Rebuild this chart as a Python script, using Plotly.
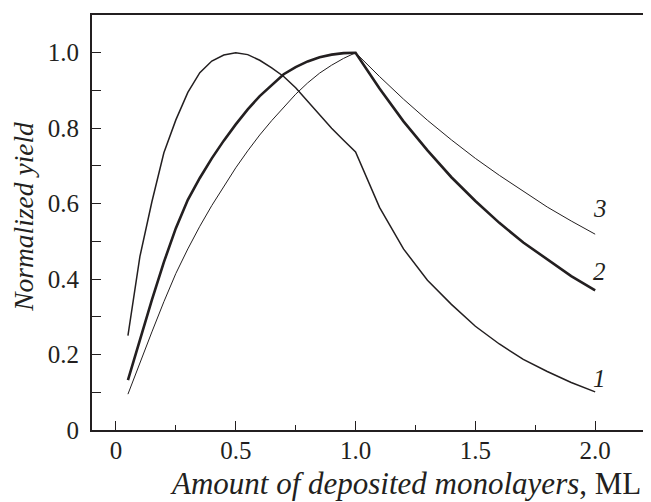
import plotly.graph_objects as go

# ---- data ----
x_rise = [0.05, 0.10, 0.15, 0.20, 0.25, 0.30, 0.35, 0.40, 0.45, 0.50,
          0.55, 0.60, 0.65, 0.70, 0.75, 0.80, 0.85, 0.90, 0.95, 1.00]
x_decay = [1.1, 1.2, 1.3, 1.4, 1.5, 1.6, 1.7, 1.8, 1.9, 2.0]

y1_rise = [0.25, 0.46, 0.605, 0.735, 0.822, 0.895, 0.947, 0.978, 0.994, 1.0,
           0.995, 0.98, 0.96, 0.937, 0.907, 0.872, 0.837, 0.80, 0.768, 0.737]
y1_decay = [0.59, 0.48, 0.397, 0.333, 0.275, 0.228, 0.187, 0.155, 0.126, 0.101]

y2_rise = [0.132, 0.24, 0.345, 0.445, 0.535, 0.61, 0.668, 0.72, 0.767, 0.81,
           0.85, 0.885, 0.915, 0.943, 0.962, 0.977, 0.988, 0.995, 0.999, 1.0]
y2_decay = [0.905, 0.818, 0.741, 0.670, 0.607, 0.549, 0.497, 0.452, 0.408, 0.370]

y3_rise = [0.095, 0.18, 0.26, 0.34, 0.415, 0.48, 0.54, 0.595, 0.645, 0.695,
           0.74, 0.782, 0.82, 0.856, 0.89, 0.92, 0.946, 0.967, 0.985, 1.0]
y3_decay = [0.937, 0.877, 0.821, 0.769, 0.72, 0.675, 0.632, 0.591, 0.554, 0.519]

curve_labels = ["1", "2", "3"]
label_y = [0.136, 0.419, 0.587]
x_ticks = [0, 0.5, 1.0, 1.5, 2.0]
x_ticktext = ["0", "0.5", "1.0", "1.5", "2.0"]
y_ticks = [0, 0.2, 0.4, 0.6, 0.8, 1.0]
y_ticktext = ["0", "0.2", "0.4", "0.6", "0.8", "1.0"]

INK = "#231f20"
FONT = "Liberation Serif, Times New Roman, serif"

x_all = x_rise + x_decay
series = [
    (y1_rise + y1_decay, 1.5),
    (y2_rise + y2_decay, 2.6),
    (y3_rise + y3_decay, 1.0),
]

fig = go.Figure()
for (ys, w), lab, ly in zip(series, curve_labels, label_y):
    fig.add_trace(go.Scatter(x=x_all, y=ys, mode="lines",
                             line=dict(color=INK, width=w), name=lab,
                             showlegend=False, hoverinfo="skip"))
    fig.add_annotation(x=2.02, y=ly, text="<i>%s</i>" % lab,
                       showarrow=False, xanchor="center", yanchor="middle",
                       font=dict(family=FONT, size=25, color=INK))

fig.add_annotation(xref="x", yref="paper", x=1.21, y=-0.128,
                   text="<i>Amount of deposited monolayers</i>, ML",
                   showarrow=False, xanchor="center", yanchor="middle",
                   font=dict(family=FONT, size=31, color=INK))
fig.add_annotation(xref="paper", yref="paper", x=-0.124, y=0.513,
                   text="<i>Normalized yield</i>", textangle=-90,
                   showarrow=False, xanchor="center", yanchor="middle",
                   font=dict(family=FONT, size=27.5, color=INK))

fig.update_layout(
    width=643, height=494,
    margin=dict(l=84, r=0, t=7, b=72),
    paper_bgcolor="white", plot_bgcolor="white",
    font=dict(family=FONT, size=25, color=INK),
)
fig.update_xaxes(
    range=[-0.1, 2.233], showgrid=False, zeroline=False,
    showline=True, linecolor=INK, linewidth=2, mirror=True,
    ticks="inside", ticklen=9, tickwidth=1.3, tickcolor=INK,
    tickvals=x_ticks, ticktext=x_ticktext, ticklabelstandoff=-3,
    minor=dict(ticks="inside", ticklen=5, tickwidth=1.3, tickcolor=INK, dtick=0.25, showgrid=False),
)
fig.update_yaxes(
    range=[0, 1.1], showgrid=False, zeroline=False,
    showline=True, linecolor=INK, linewidth=2,
    ticks="inside", ticklen=9, tickwidth=1.3, tickcolor=INK,
    tickvals=y_ticks, ticktext=y_ticktext, ticklabelstandoff=6,
    minor=dict(ticks="inside", ticklen=9, tickwidth=1.3, tickcolor=INK, dtick=0.1, showgrid=False),
)

fig.write_html("out.html")
